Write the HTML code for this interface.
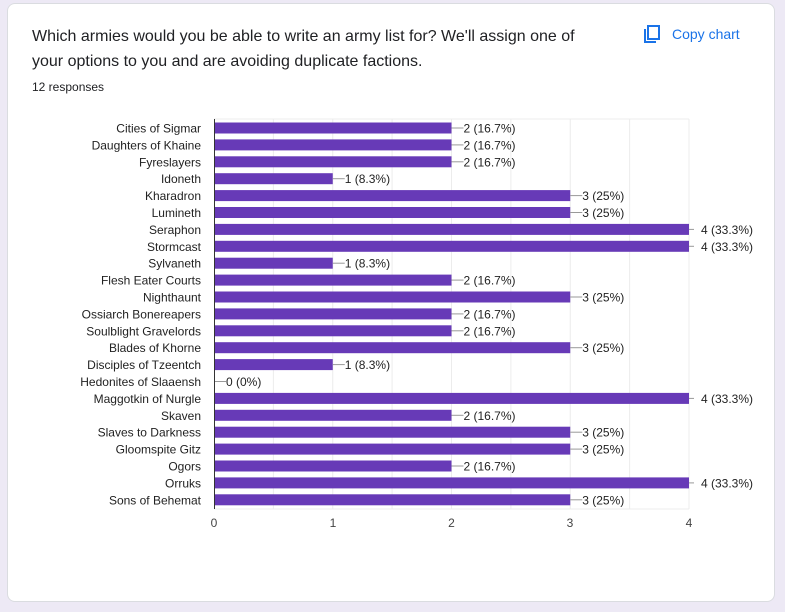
<!DOCTYPE html>
<html><head><style>
body{margin:0;background:#ede9f5;width:785px;height:612px;overflow:hidden;font-family:"Liberation Sans",Arial,sans-serif}
.card{position:absolute;left:7px;top:3px;width:768px;height:599px;background:#fff;border:1px solid #dadce0;border-radius:8px;box-sizing:border-box}
.t{position:absolute;left:24px;top:20px;font-size:16px;line-height:25px;color:#202124;width:560px}
.r{position:absolute;left:24px;top:76px;font-size:12px;color:#202124}
.c{position:absolute;left:634px;top:20px;font-size:14px;color:#1a73e8;font-weight:500}
</style></head><body>
<div class="card">
<div class="t">Which armies would you be able to write an army list for? We'll assign one of your options to you and are avoiding duplicate factions.</div>
<div class="r">12 responses</div>
<div class="c"><svg width="20" height="20" viewBox="0 0 20 20" style="vertical-align:-5px;margin-right:10px"><rect x="6" y="2" width="11" height="13" fill="none" stroke="#1a73e8" stroke-width="2"/><path d="M3 5v13h11" fill="none" stroke="#1a73e8" stroke-width="2"/></svg>Copy chart</div>
</div>
<svg width="785" height="612" style="position:absolute;left:0;top:0" font-family="Liberation Sans,Arial,sans-serif" font-size="12" fill="#222">
<g stroke="#ececec">
<line x1="273.4" y1="119" x2="273.4" y2="509"/><line x1="332.75" y1="119" x2="332.75" y2="509"/><line x1="392.1" y1="119" x2="392.1" y2="509"/><line x1="451.5" y1="119" x2="451.5" y2="509"/><line x1="510.9" y1="119" x2="510.9" y2="509"/><line x1="570.25" y1="119" x2="570.25" y2="509"/><line x1="629.6" y1="119" x2="629.6" y2="509"/><line x1="689" y1="119" x2="689" y2="509"/>
<line x1="214" y1="119" x2="689" y2="119"/><line x1="214" y1="509" x2="689" y2="509"/>
</g>
<g id="bars"></g>
<line x1="214.5" y1="119" x2="214.5" y2="509" stroke="#333"/>
<g text-anchor="middle" fill="#444"><text x="214" y="527">0</text><text x="333" y="527">1</text><text x="451.5" y="527">2</text><text x="570" y="527">3</text><text x="689" y="527">4</text></g>
</svg>
<script>
var d=[["Cities of Sigmar",2,"16.7"],["Daughters of Khaine",2,"16.7"],["Fyreslayers",2,"16.7"],["Idoneth",1,"8.3"],["Kharadron",3,"25"],["Lumineth",3,"25"],["Seraphon",4,"33.3"],["Stormcast",4,"33.3"],["Sylvaneth",1,"8.3"],["Flesh Eater Courts",2,"16.7"],["Nighthaunt",3,"25"],["Ossiarch Bonereapers",2,"16.7"],["Soulblight Gravelords",2,"16.7"],["Blades of Khorne",3,"25"],["Disciples of Tzeentch",1,"8.3"],["Hedonites of Slaaensh",0,"0"],["Maggotkin of Nurgle",4,"33.3"],["Skaven",2,"16.7"],["Slaves to Darkness",3,"25"],["Gloomspite Gitz",3,"25"],["Ogors",2,"16.7"],["Orruks",4,"33.3"],["Sons of Behemat",3,"25"]];
var s="";d.forEach(function(a,i){var y=128+i*16.9,w=a[1]*118.75,e=214+w;
s+='<text x="201" y="'+(y+4.5)+'" text-anchor="end">'+a[0]+'</text>';
if(w>0)s+='<rect x="214" y="'+(y-5.5)+'" width="'+w+'" height="11" fill="#673ab7"/>';
if(a[1]==4){s+='<line x1="689" y1="'+y+'" x2="694" y2="'+y+'" stroke="#999"/><text x="701" y="'+(y+4.5)+'">4 (33.3%)</text>';}
else{s+='<line x1="'+e+'" y1="'+y+'" x2="'+(e+12)+'" y2="'+y+'" stroke="#999"/><text x="'+(e+12)+'" y="'+(y+4.5)+'">'+a[1]+' ('+a[2]+'%)</text>';}
});document.getElementById("bars").innerHTML=s;
</script>
</body></html>
